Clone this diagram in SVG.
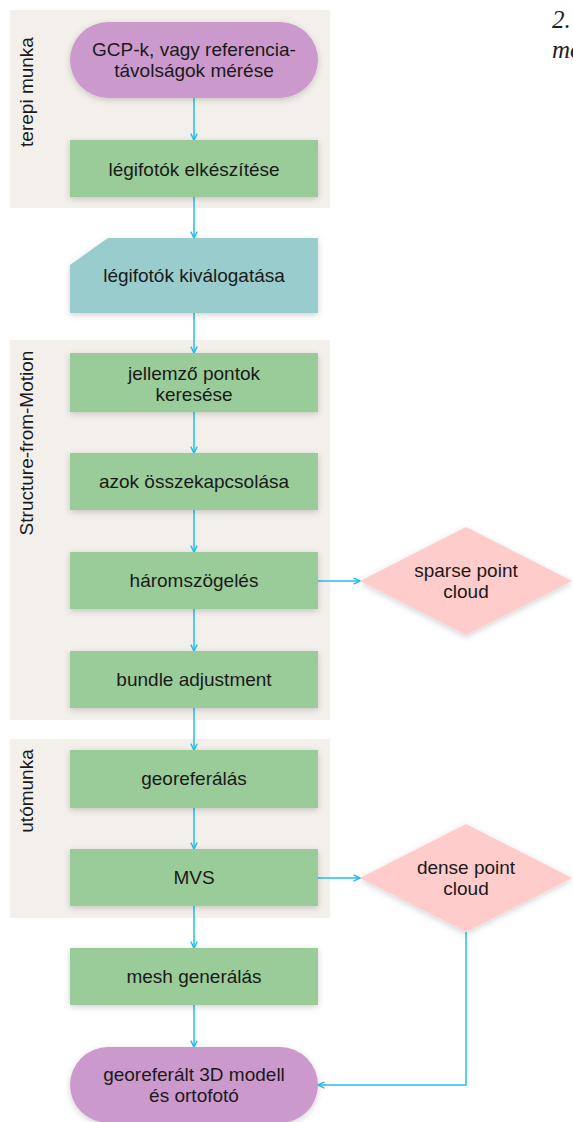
<svg xmlns="http://www.w3.org/2000/svg" width="573" height="1122" viewBox="0 0 573 1122">
<style>
.lane{fill:#F3EFEB}
.lbl{font-family:"Liberation Sans",Arial,sans-serif;font-size:19px;fill:#1a1a1a;text-anchor:middle}
.proc{fill:#99CC99}
.term{fill:#CC99CC}
.sel{fill:#99CCCC}
.dec{fill:#FFCCCC}
.sh{filter:url(#shadow)}
.conn{fill:none;stroke:#22BEEF;stroke-width:1.5;marker-end:url(#arr)}
.title{font-family:"Liberation Serif","Times New Roman",serif;font-style:italic;font-size:25px;fill:#222}
</style>
<defs>
<filter id="shadow" x="-20%" y="-20%" width="140%" height="150%">
<feDropShadow dx="0" dy="2" stdDeviation="3" flood-color="#000" flood-opacity="0.18"/>
</filter>
<marker id="arr" viewBox="0 0 10 10" refX="9" refY="5" markerWidth="8" markerHeight="8" markerUnits="userSpaceOnUse" orient="auto">
<path d="M1,1 L9,5 L1,9" fill="none" stroke="#22BEEF" stroke-width="1.8"/>
</marker>
</defs>
<rect width="573" height="1122" fill="#fff"/>
<g id="lane-terepi">
<rect class="lane" x="10" y="10" width="320" height="198"/>
<text class="lbl" transform="translate(33,92) rotate(-90)">terepi munka</text>
</g>
<g id="lane-sfm">
<rect class="lane" x="10" y="340" width="320" height="380"/>
<text class="lbl" transform="translate(33,443) rotate(-90)">Structure-from-Motion</text>
</g>
<g id="lane-uto">
<rect class="lane" x="10" y="739" width="320" height="179"/>
<text class="lbl" transform="translate(33,791) rotate(-90)">utómunka</text>
</g>
<g id="title">
<text class="title" x="552" y="28">2.</text>
<text class="title" x="552" y="58">mo</text>
</g>
<g id="connectors">
<path class="conn" d="M194,98 V140"/>
<path class="conn" d="M194,197 V238"/>
<path class="conn" d="M194,313 V353"/>
<path class="conn" d="M194,412 V453"/>
<path class="conn" d="M194,510 V552"/>
<path class="conn" d="M194,609 V651"/>
<path class="conn" d="M194,708 V750"/>
<path class="conn" d="M194,808 V849"/>
<path class="conn" d="M194,906 V948"/>
<path class="conn" d="M194,1005 V1047"/>
<path class="conn" d="M318,581 H360"/>
<path class="conn" d="M318,878 H360"/>
<path class="conn" d="M466,932 V1085 H318"/>
</g>
<g id="n-gcp">
<rect class="term sh" x="70" y="22" width="248" height="76" rx="38"/>
<text class="lbl" x="194" y="56">GCP-k, vagy referencia-</text>
<text class="lbl" x="194" y="77">távolságok mérése</text>
</g>
<g id="n-legifoto">
<rect class="proc sh" x="70" y="140" width="248" height="57"/>
<text class="lbl" x="194" y="176">légifotók elkészítése</text>
</g>
<g id="n-kivalogat">
<path class="sel sh" d="M108,238 H318 V313 H70 V265 Z"/>
<text class="lbl" x="194" y="282">légifotók kiválogatása</text>
</g>
<g id="n-jellemzo">
<rect class="proc sh" x="70" y="353" width="248" height="59"/>
<text class="lbl" x="194" y="380">jellemző pontok</text>
<text class="lbl" x="194" y="401">keresése</text>
</g>
<g id="n-azok">
<rect class="proc sh" x="70" y="453" width="248" height="57"/>
<text class="lbl" x="194" y="488">azok összekapcsolása</text>
</g>
<g id="n-harom">
<rect class="proc sh" x="70" y="552" width="248" height="57"/>
<text class="lbl" x="194" y="587">háromszögelés</text>
</g>
<g id="n-bundle">
<rect class="proc sh" x="70" y="651" width="248" height="57"/>
<text class="lbl" x="194" y="686">bundle adjustment</text>
</g>
<g id="n-georef">
<rect class="proc sh" x="70" y="750" width="248" height="58"/>
<text class="lbl" x="194" y="785">georeferálás</text>
</g>
<g id="n-mvs">
<rect class="proc sh" x="70" y="849" width="248" height="57"/>
<text class="lbl" x="194" y="884">MVS</text>
</g>
<g id="n-mesh">
<rect class="proc sh" x="70" y="948" width="248" height="57"/>
<text class="lbl" x="194" y="983">mesh generálás</text>
</g>
<g id="n-model">
<rect class="term sh" x="70" y="1047" width="248" height="76" rx="38"/>
<text class="lbl" x="194" y="1081">georeferált 3D modell</text>
<text class="lbl" x="194" y="1102">és ortofotó</text>
</g>
<g id="n-sparse">
<path class="dec sh" d="M466,527 L572,581 L466,635 L360,581 Z"/>
<text class="lbl" x="466" y="577">sparse point</text>
<text class="lbl" x="466" y="598">cloud</text>
</g>
<g id="n-dense">
<path class="dec sh" d="M466,824 L572,878 L466,932 L360,878 Z"/>
<text class="lbl" x="466" y="874">dense point</text>
<text class="lbl" x="466" y="895">cloud</text>
</g>
</svg>
